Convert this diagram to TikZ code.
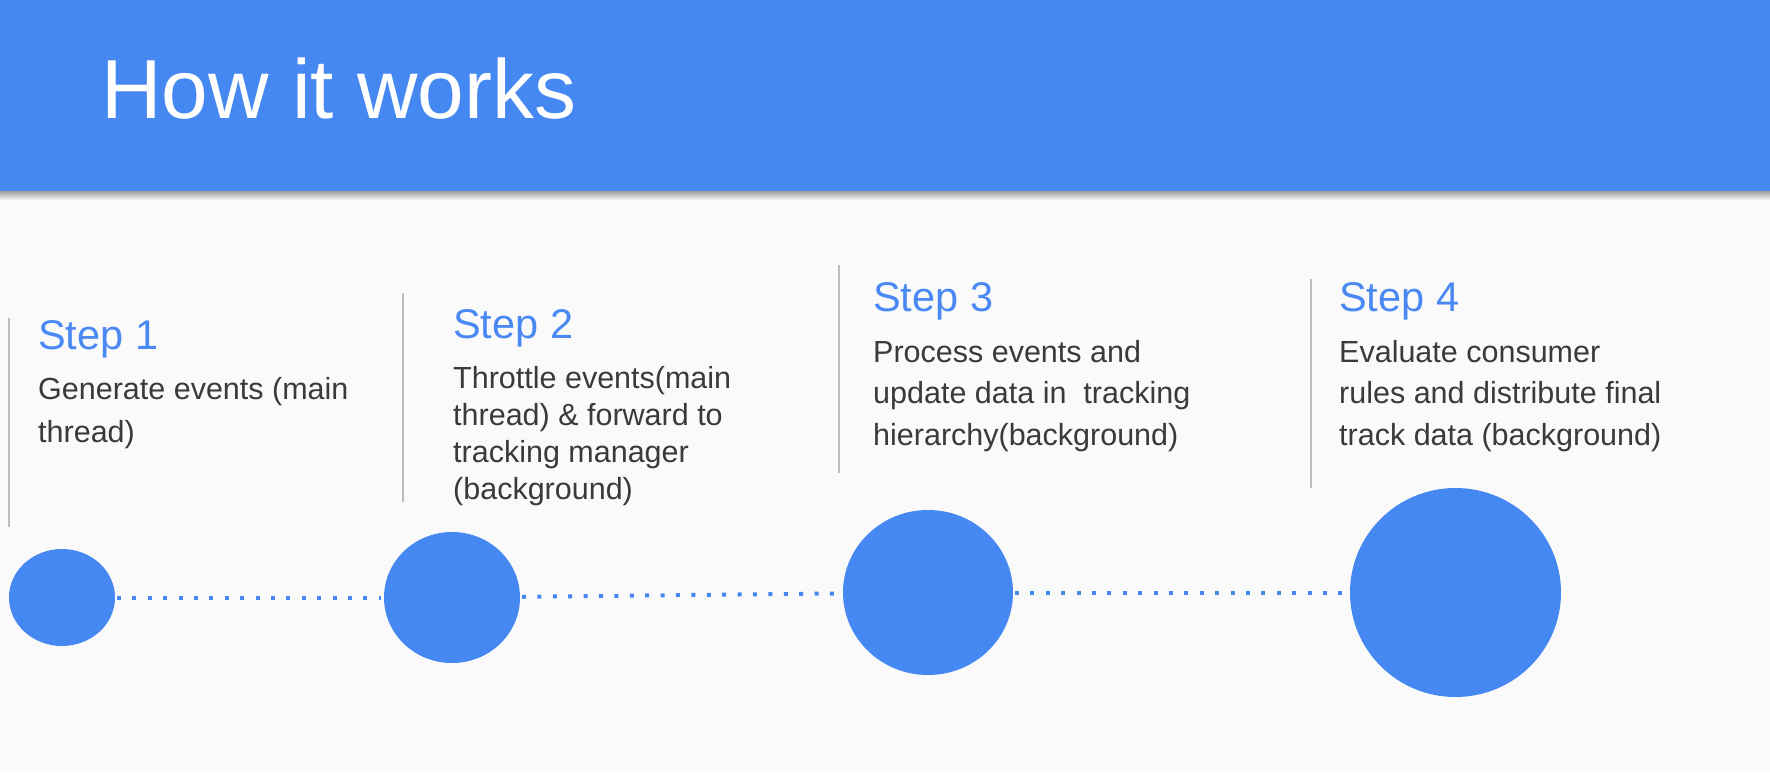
\documentclass[tikz,border=0pt]{standalone}
\usepackage{fontspec}
\setmainfont{Liberation Sans}
\usetikzlibrary{shapes.geometric}
\definecolor{gblue}{HTML}{4688F1}
\definecolor{stepblue}{HTML}{4A89F3}
\definecolor{bodygray}{HTML}{3A3A3A}
\definecolor{rulegray}{HTML}{BDBDBD}
\definecolor{bgc}{HTML}{FAFAFA}
\begin{document}
\begin{tikzpicture}[x=1pt,y=-1pt,
  steptitle/.style={anchor=base west, inner sep=0pt, text=stepblue, font=\fontsize{41.5}{50}\selectfont},
  bodyline/.style={anchor=base west, inner sep=0pt, text=bodygray, font=\fontsize{30.5}{36}\selectfont},
  bubble/.style={ellipse, fill=gblue, draw=none, inner sep=0pt, outer sep=0pt},
  dotline/.style={gblue, line width=4pt, dash pattern=on 4pt off 11.4pt, shorten <=2pt, shorten >=3pt},
  sepline/.style={rulegray, line width=2pt}]
\useasboundingbox (0,0) rectangle (1770,772);
% background and header
\fill[bgc] (0,0) rectangle (1770,772);
\shade[top color=black!38, bottom color=bgc] (0,191) rectangle (1770,200);
\fill[gblue] (0,0) rectangle (1770,191);
\node[anchor=base west, inner sep=0pt, text=white, font=\fontsize{83.8}{90}\selectfont] (title) at (101,118) {How it works};
% separators
\draw[sepline] (9,318) -- (9,527);
\draw[sepline] (403,293) -- (403,502);
\draw[sepline] (839,265) -- (839,473);
\draw[sepline] (1311,279) -- (1311,488);
% step 1
\node[steptitle] (t1) at (38,349) {Step 1};
\node[bodyline] (s1a) at (38,399) {Generate events (main};
\node[bodyline] (s1b) at (38,442) {thread)};
% step 2
\node[steptitle] (t2) at (453,338) {Step 2};
\node[bodyline] (s2a) at (453,388) {Throttle events(main};
\node[bodyline] (s2b) at (453,425) {thread) \& forward to};
\node[bodyline] (s2c) at (453,462) {tracking manager};
\node[bodyline] (s2d) at (453,499) {(background)};
% step 3
\node[steptitle] (t3) at (873,311) {Step 3};
\node[bodyline] (s3a) at (873,362) {Process events and};
\node[bodyline] (s3b) at (873,403) {update data in~ tracking};
\node[bodyline] (s3c) at (873,445) {hierarchy(background)};
% step 4
\node[steptitle] (t4) at (1339,311) {Step 4};
\node[bodyline] (s4a) at (1339,362) {Evaluate consumer};
\node[bodyline] (s4b) at (1339,403) {rules and distribute final};
\node[bodyline] (s4c) at (1339,445) {track data (background)};
% bubbles
\node[bubble, minimum width=106pt, minimum height=97pt] (c1) at (62,597.5) {};
\node[bubble, minimum width=136pt, minimum height=131pt] (c2) at (452,597.5) {};
\node[bubble, minimum width=170pt, minimum height=165pt] (c3) at (928,592.5) {};
\node[bubble, minimum width=211pt, minimum height=209pt] (c4) at (1455.5,592.5) {};
% connectors
\draw[dotline] (c1) -- (c2);
\draw[dotline] (c2) -- (c3);
\draw[dotline] (c3) -- (c4);
\end{tikzpicture}
\end{document}
